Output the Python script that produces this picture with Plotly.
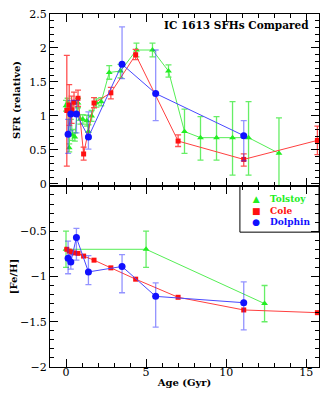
import plotly.graph_objects as go
from plotly.subplots import make_subplots

# Tolstoy SFH
tol_age = [0.0, 0.1, 0.2, 0.3, 0.4, 0.55, 0.75, 0.9, 1.05, 1.3, 1.4, 1.6, 1.9, 2.2,
           2.7, 3.4, 4.4, 5.4, 6.4, 7.4, 8.4, 9.4, 10.4, 11.4, 13.3]
tol_sfr = [1.15, 1.19, 0.53, 1.05, 0.72, 0.69, 1.19, 0.95, 0.95, 0.93, 0.77, 1.0, 1.19, 1.21,
           1.64, 1.66, 1.97, 1.97, 1.66, 0.77, 0.68, 0.68, 0.68, 0.68, 0.45]
tol_sfr_hi = [0.08, 0.07, 0.06, 0.1, 0.08, 0.06, 0.07, 0.07, 0.07, 0.08, 0.1, 0.08, 0.06, 0.06,
              0.1, 0.1, 0.1, 0.1, 0.09, 0.33, 0.31, 0.31, 0.53, 0.53, 0.52]
tol_sfr_lo = [0.08, 0.07, 0.06, 0.1, 0.08, 0.06, 0.07, 0.07, 0.07, 0.08, 0.1, 0.08, 0.06, 0.06,
              0.1, 0.1, 0.1, 0.1, 0.09, 0.32, 0.33, 0.33, 0.55, 0.55, 0.5]
tol_z_age = [0.0, 5.0, 12.4]
tol_feh = [-0.7, -0.7, -1.3]
tol_feh_err = [0.2, 0.2, 0.2]

# Cole SFH
cole_age = [0.05, 0.2, 0.35, 0.5, 0.75, 1.1, 1.75, 2.8, 4.35, 7.0, 11.1, 15.7]
cole_sfr = [1.08, 1.16, 1.09, 1.2, 1.26, 0.44, 1.19, 1.34, 1.90, 0.63, 0.36, 0.64]
cole_sfr_hi = [0.81, 0.3, 0.2, 0.15, 0.12, 0.1, 0.08, 0.08, 0.08, 0.09, 0.08, 0.21]
cole_sfr_lo = [0.82, 0.3, 0.2, 0.15, 0.12, 0.09, 0.07, 0.09, 0.07, 0.08, 0.1, 0.21]
cole_feh = [-0.70, -0.72, -0.73, -0.74, -0.745, -0.775, -0.82, -0.905, -1.03, -1.23, -1.37, -1.40]

# Dolphin SFH
dol_age = [0.13, 0.3, 0.65, 1.4, 3.5, 5.6, 11.1]
dol_sfr = [0.73, 1.03, 1.03, 0.69, 1.76, 1.33, 0.71]
dol_sfr_hi = [0.22, 0.2, 0.2, 0.37, 0.55, 0.64, 0.22]
dol_sfr_lo = [0.28, 0.25, 0.28, 0.18, 0.21, 0.40, 0.37]
dol_feh = [-0.80, -0.84, -0.57, -0.95, -0.89, -1.22, -1.29]
dol_feh_hi = [0.19, 0.08, 0.10, 0.18, 0.13, 0.15, 0.23]
dol_feh_lo = [0.17, 0.08, 0.25, 0.14, 0.29, 0.34, 0.30]

names = ['Tolstoy', 'Cole', 'Dolphin']

GREEN = '#22ee22'
RED = '#ff1010'
BLUE = '#1010ff'
FONT = 'DejaVu Serif'

fig = make_subplots(rows=2, cols=1, shared_xaxes=True, vertical_spacing=0,
                    row_heights=[0.487, 0.513])

def errs(hi, lo, color, w=3):
    return dict(type='data', symmetric=False, array=hi, arrayminus=lo,
                color=color, thickness=1.3, width=w)

# top panel: SFR
fig.add_trace(go.Scatter(x=tol_age, y=tol_sfr, mode='lines+markers', name=names[0],
                         line=dict(color='#55ee55', width=1),
                         marker=dict(symbol='triangle-up', size=6, color=GREEN),
                         error_y=errs(tol_sfr_hi, tol_sfr_lo, '#66ee66')), row=1, col=1)
fig.add_trace(go.Scatter(x=cole_age, y=cole_sfr, mode='lines+markers', name=names[1],
                         line=dict(color='#ff4040', width=1),
                         marker=dict(symbol='square', size=5, color=RED),
                         error_y=errs(cole_sfr_hi, cole_sfr_lo, '#ff5050')), row=1, col=1)
fig.add_trace(go.Scatter(x=dol_age, y=dol_sfr, mode='lines+markers', name=names[2],
                         line=dict(color='#4848ff', width=1),
                         marker=dict(symbol='circle', size=7, color=BLUE),
                         error_y=errs(dol_sfr_hi, dol_sfr_lo, 'rgba(40,40,255,0.5)')), row=1, col=1)

# bottom panel: [Fe/H]
fig.add_trace(go.Scatter(x=tol_z_age, y=tol_feh, mode='lines+markers', name=names[0],
                         line=dict(color='#55ee55', width=1),
                         marker=dict(symbol='triangle-up', size=6, color=GREEN),
                         error_y=errs(tol_feh_err, tol_feh_err, '#66ee66')), row=2, col=1)
fig.add_trace(go.Scatter(x=cole_age, y=cole_feh, mode='lines+markers', name=names[1],
                         line=dict(color='#ff4040', width=1),
                         marker=dict(symbol='square', size=5, color=RED)), row=2, col=1)
fig.add_trace(go.Scatter(x=dol_age, y=dol_feh, mode='lines+markers', name=names[2],
                         line=dict(color='#4848ff', width=1),
                         marker=dict(symbol='circle', size=7, color=BLUE),
                         error_y=errs(dol_feh_hi, dol_feh_lo, 'rgba(40,40,255,0.5)')), row=2, col=1)

axis_style = dict(showline=True, linecolor='black', linewidth=1, mirror='allticks',
                  ticks='inside', ticklen=8, tickcolor='black', showgrid=False, zeroline=False,
                  automargin=False, ticklabeloverflow='allow',
                  tickfont=dict(family=FONT, size=11, color='black'))

fig.update_xaxes(**axis_style, range=[-1, 15.8], dtick=5, tick0=0, ticklabelstandoff=-5,
                 minor=dict(dtick=1, ticklen=4, ticks='inside', tickcolor='black'))
fig.update_xaxes(title=dict(text='<b>Age (Gyr)</b>', font=dict(family=FONT, size=10), standoff=0),
                 row=2, col=1)
fig.update_yaxes(**axis_style, minor=dict(dtick=0.1, ticklen=4, ticks='inside', tickcolor='black'))
fig.update_yaxes(range=[-0.03, 2.5], tickvals=[0, 0.5, 1, 1.5, 2, 2.5],
                 title=dict(text='<b>SFR (relative)</b>', font=dict(family=FONT, size=10), standoff=6),
                 row=1, col=1)
fig.update_yaxes(range=[-2, 0.0], tickvals=[-2, -1.5, -1, -0.5],
                 title=dict(text='<b>[Fe/H]</b>', font=dict(family=FONT, size=10), standoff=6),
                 row=2, col=1)

fig.add_annotation(text='<b>IC 1613 SFHs Compared</b>', xref='x domain', yref='y domain',
                   x=0.97, y=0.936, xanchor='right', yanchor='middle', showarrow=False,
                   font=dict(family=FONT, size=10.5, color='black'))

# legend box
fig.add_shape(type='rect', xref='paper', yref='paper', x0=0.706, x1=1, y0=0.382, y1=0.513,
              line=dict(color='black', width=1), fillcolor='white', layer='below')
glyphs = ['\u25b2', '\u25a0', '\u25cf']
colors = [GREEN, RED, BLUE]
sym_txt = '<br>'.join(f'<span style="color:{c}">{g}</span>' for g, c in zip(glyphs, colors))
lab_txt = '<br>'.join(f'<span style="color:{c}"><b>{n}</b></span>' for n, c in zip(names, colors))
fig.add_annotation(text=sym_txt, xref='paper', yref='paper', x=0.766, y=0.443, showarrow=False,
                   xanchor='center', yanchor='middle', align='center',
                   font=dict(family=FONT, size=9))
fig.add_annotation(text=lab_txt, xref='paper', yref='paper', x=0.81, y=0.443, showarrow=False,
                   xanchor='left', yanchor='middle', align='left',
                   font=dict(family=FONT, size=9))

# page body has an 8px margin, so the figure is sized and offset to compensate
fig.update_layout(width=328, height=407, margin=dict(l=42, r=17, t=6, b=48),
                  plot_bgcolor='white', paper_bgcolor='white', showlegend=False,
                  font=dict(family=FONT, color='black'))

fig.write_html("out.html")
